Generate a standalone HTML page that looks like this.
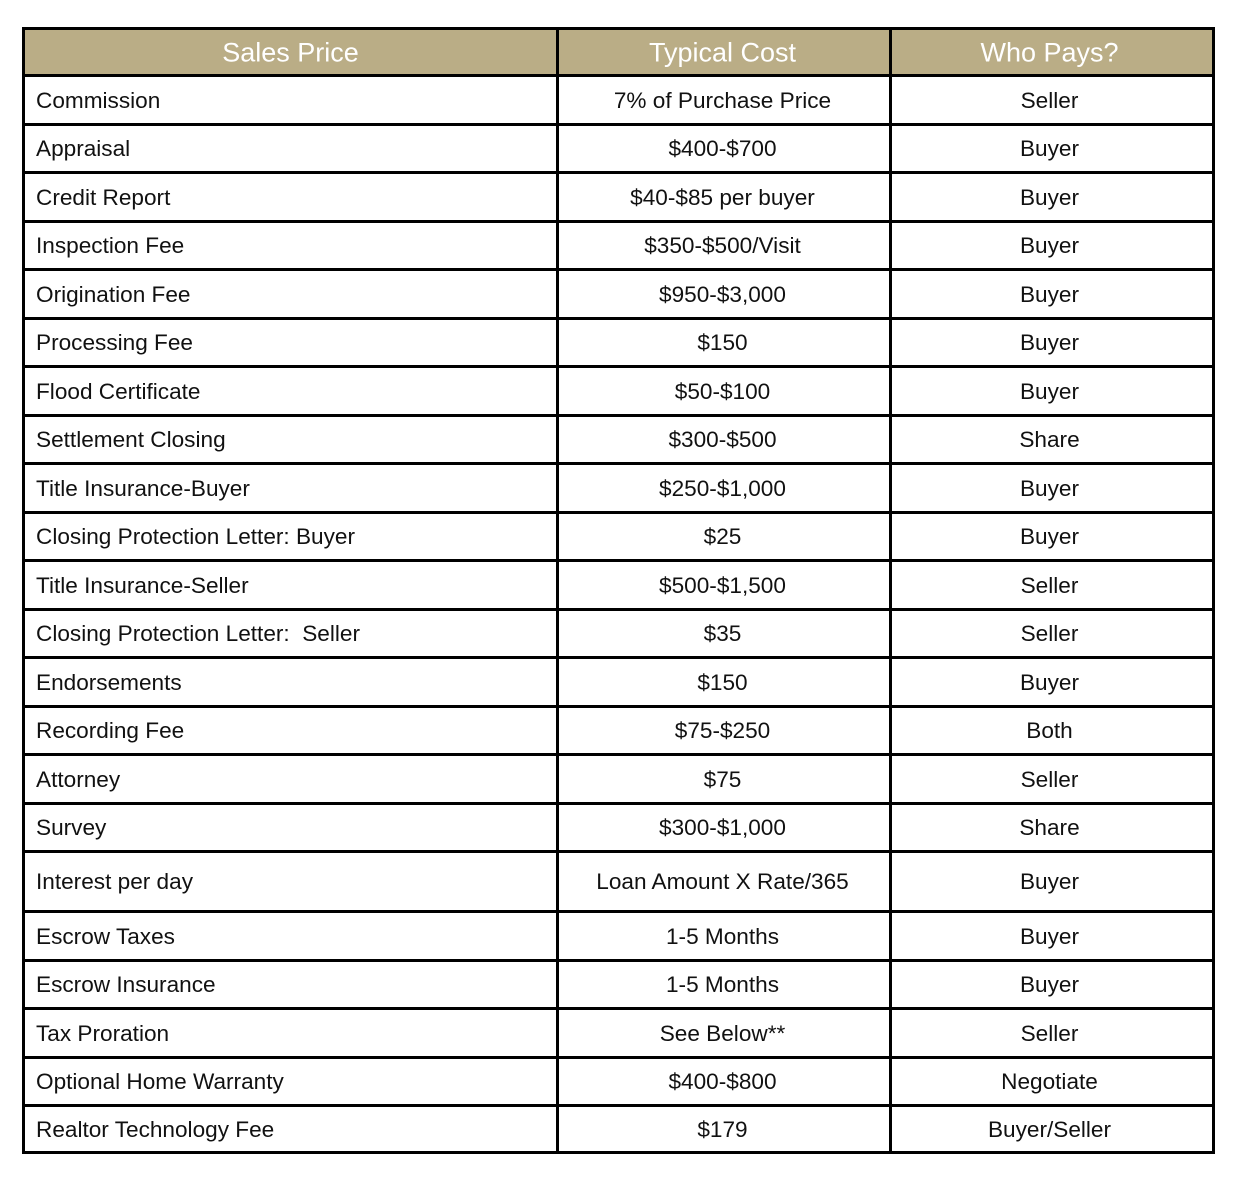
<!DOCTYPE html>
<html><head><meta charset="utf-8"><style>
body{margin:0;width:1238px;height:1186px;background:#fff;position:relative;font-family:"Liberation Sans","DejaVu Sans",sans-serif;overflow:hidden}
.h{position:absolute;left:22px;width:1193px;height:3px;background:#000}
.v{position:absolute;top:27px;height:1127px;width:3px;background:#000}
.hdr{position:absolute;left:22px;top:27px;width:1193px;height:48px;background:#baad86}
.t{position:absolute;font-size:22.6px;color:#111;white-space:pre;transform:translateY(-50%)}
.c1{left:36px}.c2{left:556px;width:333px;text-align:center}.c3{left:888px;width:323px;text-align:center}
.hd{color:#fff;font-size:27px}
</style></head><body>
<div class="hdr"></div>
<div id="g"></div>
<script>
const ys=[27,74,123,171,220,268,317,365,414,462,511,559,608,656,705,753,802,850,910,959,1007,1056,1104,1151];
const rows=[["Commission","7% of Purchase Price","Seller"],["Appraisal","$400-$700","Buyer"],["Credit Report","$40-$85 per buyer","Buyer"],["Inspection Fee","$350-$500/Visit","Buyer"],["Origination Fee","$950-$3,000","Buyer"],["Processing Fee","$150","Buyer"],["Flood Certificate","$50-$100","Buyer"],["Settlement Closing","$300-$500","Share"],["Title Insurance-Buyer","$250-$1,000","Buyer"],["Closing Protection Letter: Buyer","$25","Buyer"],["Title Insurance-Seller","$500-$1,500","Seller"],["Closing Protection Letter:  Seller","$35","Seller"],["Endorsements","$150","Buyer"],["Recording Fee","$75-$250","Both"],["Attorney","$75","Seller"],["Survey","$300-$1,000","Share"],["Interest per day","Loan Amount X Rate/365","Buyer"],["Escrow Taxes","1-5 Months","Buyer"],["Escrow Insurance","1-5 Months","Buyer"],["Tax Proration","See Below**","Seller"],["Optional Home Warranty","$400-$800","Negotiate"],["Realtor Technology Fee","$179","Buyer/Seller"]];
let h='';
ys.forEach(y=>h+=`<div class="h" style="top:${y}px"></div>`);
[22,556,889,1212].forEach(x=>h+=`<div class="v" style="left:${x}px"></div>`);
const hy=(ys[0]+ys[1])/2+2;
h+=`<div class="t hd" style="left:24px;width:533px;text-align:center;top:${hy}px">Sales Price</div><div class="t hd c2" style="top:${hy}px">Typical Cost</div><div class="t hd c3" style="top:${hy}px">Who Pays?</div>`;
rows.forEach((r,i)=>{const y=(ys[i+1]+ys[i+2])/2+2;
h+=`<div class="t c1" style="top:${y}px">${r[0]}</div><div class="t c2" style="top:${y}px">${r[1]}</div><div class="t c3" style="top:${y}px">${r[2]}</div>`;});
document.getElementById('g').innerHTML=h;
</script>
</body></html>
